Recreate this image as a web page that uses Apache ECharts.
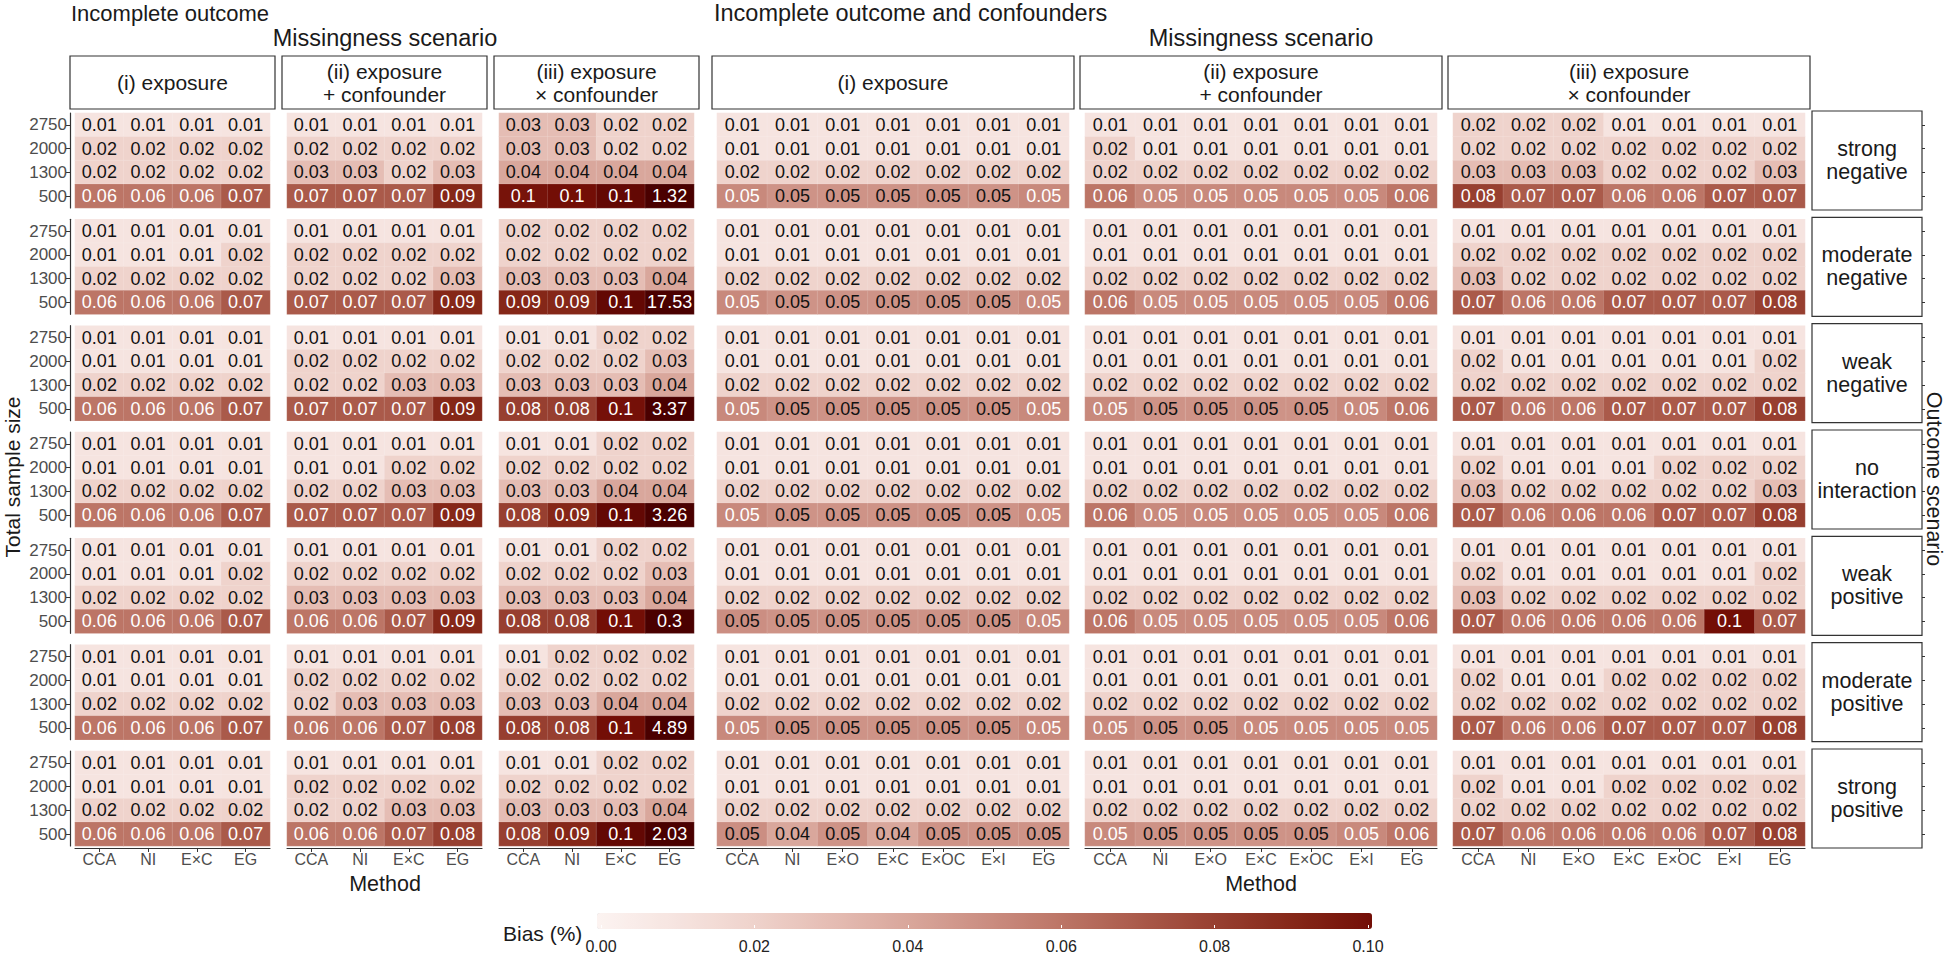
<!DOCTYPE html>
<html><head><meta charset="utf-8">
<script src="https://cdn.jsdelivr.net/npm/echarts@6/dist/echarts.min.js"></script>
<style>html,body{margin:0;padding:0;background:#fff}#c{width:1946px;height:954px}</style>
</head><body><div id="c"></div>
<script>
// ---------- categories / labels ----------
const sampleSizes = ['2750', '2000', '1300', '500'];
const methodsLeft = ['CCA', 'NI', 'E×C', 'EG'];
const methodsRight = ['CCA', 'NI', 'E×O', 'E×C', 'E×OC', 'E×I', 'EG'];
const outcomeScenarios = ['strong\nnegative', 'moderate\nnegative', 'weak\nnegative', 'no\ninteraction', 'weak\npositive', 'moderate\npositive', 'strong\npositive'];
const missingnessScenarios = ['(i) exposure', '(ii) exposure\n+ confounder', '(iii) exposure\n× confounder'];
const legendTicks = [0, 0.02, 0.04, 0.06, 0.08, 0.10];

// ---------- Incomplete outcome (rows: 2750, 2000, 1300, 500; cols: CCA, NI, E×C, EG) ----------
const outcomeOnly_i = [
  [[0.01,0.01,0.01,0.01],[0.02,0.02,0.02,0.02],[0.02,0.02,0.02,0.02],[0.06,0.06,0.06,0.07]],
  [[0.01,0.01,0.01,0.01],[0.01,0.01,0.01,0.02],[0.02,0.02,0.02,0.02],[0.06,0.06,0.06,0.07]],
  [[0.01,0.01,0.01,0.01],[0.01,0.01,0.01,0.01],[0.02,0.02,0.02,0.02],[0.06,0.06,0.06,0.07]],
  [[0.01,0.01,0.01,0.01],[0.01,0.01,0.01,0.01],[0.02,0.02,0.02,0.02],[0.06,0.06,0.06,0.07]],
  [[0.01,0.01,0.01,0.01],[0.01,0.01,0.01,0.02],[0.02,0.02,0.02,0.02],[0.06,0.06,0.06,0.07]],
  [[0.01,0.01,0.01,0.01],[0.01,0.01,0.01,0.01],[0.02,0.02,0.02,0.02],[0.06,0.06,0.06,0.07]],
  [[0.01,0.01,0.01,0.01],[0.01,0.01,0.01,0.01],[0.02,0.02,0.02,0.02],[0.06,0.06,0.06,0.07]]
];
const outcomeOnly_ii = [
  [[0.01,0.01,0.01,0.01],[0.02,0.02,0.02,0.02],[0.03,0.03,0.02,0.03],[0.07,0.07,0.07,0.09]],
  [[0.01,0.01,0.01,0.01],[0.02,0.02,0.02,0.02],[0.02,0.02,0.02,0.03],[0.07,0.07,0.07,0.09]],
  [[0.01,0.01,0.01,0.01],[0.02,0.02,0.02,0.02],[0.02,0.02,0.03,0.03],[0.07,0.07,0.07,0.09]],
  [[0.01,0.01,0.01,0.01],[0.01,0.01,0.02,0.02],[0.02,0.02,0.03,0.03],[0.07,0.07,0.07,0.09]],
  [[0.01,0.01,0.01,0.01],[0.02,0.02,0.02,0.02],[0.03,0.03,0.03,0.03],[0.06,0.06,0.07,0.09]],
  [[0.01,0.01,0.01,0.01],[0.02,0.02,0.02,0.02],[0.02,0.03,0.03,0.03],[0.06,0.06,0.07,0.08]],
  [[0.01,0.01,0.01,0.01],[0.02,0.02,0.02,0.02],[0.02,0.02,0.03,0.03],[0.06,0.06,0.07,0.08]]
];
const outcomeOnly_iii = [
  [[0.03,0.03,0.02,0.02],[0.03,0.03,0.02,0.02],[0.04,0.04,0.04,0.04],[0.098,0.1,0.104,1.32]],
  [[0.02,0.02,0.02,0.02],[0.02,0.02,0.02,0.02],[0.03,0.03,0.03,0.04],[0.09,0.09,0.104,17.53]],
  [[0.01,0.01,0.02,0.02],[0.02,0.02,0.02,0.03],[0.03,0.03,0.03,0.04],[0.08,0.08,0.099,3.37]],
  [[0.01,0.01,0.02,0.02],[0.02,0.02,0.02,0.02],[0.03,0.03,0.04,0.04],[0.08,0.09,0.104,3.26]],
  [[0.01,0.01,0.02,0.02],[0.02,0.02,0.02,0.03],[0.03,0.03,0.03,0.04],[0.08,0.08,0.1,0.3]],
  [[0.01,0.02,0.02,0.02],[0.02,0.02,0.02,0.02],[0.03,0.03,0.04,0.04],[0.08,0.08,0.1,4.89]],
  [[0.01,0.01,0.02,0.02],[0.02,0.02,0.02,0.02],[0.03,0.03,0.03,0.04],[0.08,0.09,0.104,2.03]]
];

// ---------- Incomplete outcome and confounders (cols: CCA, NI, E×O, E×C, E×OC, E×I, EG) ----------
const outcomeConf_i = [
  [[0.01,0.01,0.01,0.01,0.01,0.01,0.01],[0.01,0.01,0.01,0.01,0.01,0.01,0.01],[0.02,0.02,0.02,0.02,0.02,0.02,0.02],[0.052,0.048,0.048,0.048,0.048,0.048,0.052]],
  [[0.01,0.01,0.01,0.01,0.01,0.01,0.01],[0.01,0.01,0.01,0.01,0.01,0.01,0.01],[0.02,0.02,0.02,0.02,0.02,0.02,0.02],[0.052,0.048,0.048,0.048,0.048,0.048,0.052]],
  [[0.01,0.01,0.01,0.01,0.01,0.01,0.01],[0.01,0.01,0.01,0.01,0.01,0.01,0.01],[0.02,0.02,0.02,0.02,0.02,0.02,0.02],[0.052,0.048,0.048,0.048,0.048,0.048,0.052]],
  [[0.01,0.01,0.01,0.01,0.01,0.01,0.01],[0.01,0.01,0.01,0.01,0.01,0.01,0.01],[0.02,0.02,0.02,0.02,0.02,0.02,0.02],[0.052,0.048,0.048,0.048,0.048,0.048,0.052]],
  [[0.01,0.01,0.01,0.01,0.01,0.01,0.01],[0.01,0.01,0.01,0.01,0.01,0.01,0.01],[0.02,0.02,0.02,0.02,0.02,0.02,0.02],[0.05,0.048,0.048,0.048,0.048,0.048,0.052]],
  [[0.01,0.01,0.01,0.01,0.01,0.01,0.01],[0.01,0.01,0.01,0.01,0.01,0.01,0.01],[0.02,0.02,0.02,0.02,0.02,0.02,0.02],[0.052,0.048,0.048,0.048,0.048,0.048,0.052]],
  [[0.01,0.01,0.01,0.01,0.01,0.01,0.01],[0.01,0.01,0.01,0.01,0.01,0.01,0.01],[0.02,0.02,0.02,0.02,0.02,0.02,0.02],[0.05,0.04,0.048,0.04,0.048,0.048,0.048]]
];
const outcomeConf_ii = [
  [[0.01,0.01,0.01,0.01,0.01,0.01,0.01],[0.02,0.01,0.01,0.01,0.01,0.01,0.01],[0.02,0.02,0.02,0.02,0.02,0.02,0.02],[0.06,0.052,0.052,0.052,0.052,0.052,0.06]],
  [[0.01,0.01,0.01,0.01,0.01,0.01,0.01],[0.01,0.01,0.01,0.01,0.01,0.01,0.01],[0.02,0.02,0.02,0.02,0.02,0.02,0.02],[0.06,0.052,0.052,0.052,0.052,0.052,0.06]],
  [[0.01,0.01,0.01,0.01,0.01,0.01,0.01],[0.01,0.01,0.01,0.01,0.01,0.01,0.01],[0.02,0.02,0.02,0.02,0.02,0.02,0.02],[0.052,0.048,0.048,0.048,0.048,0.052,0.06]],
  [[0.01,0.01,0.01,0.01,0.01,0.01,0.01],[0.01,0.01,0.01,0.01,0.01,0.01,0.01],[0.02,0.02,0.02,0.02,0.02,0.02,0.02],[0.06,0.052,0.052,0.052,0.052,0.052,0.06]],
  [[0.01,0.01,0.01,0.01,0.01,0.01,0.01],[0.01,0.01,0.01,0.01,0.01,0.01,0.01],[0.02,0.02,0.02,0.02,0.02,0.02,0.02],[0.06,0.052,0.052,0.052,0.052,0.052,0.06]],
  [[0.01,0.01,0.01,0.01,0.01,0.01,0.01],[0.01,0.01,0.01,0.01,0.01,0.01,0.01],[0.02,0.02,0.02,0.02,0.02,0.02,0.02],[0.052,0.048,0.048,0.052,0.052,0.052,0.052]],
  [[0.01,0.01,0.01,0.01,0.01,0.01,0.01],[0.01,0.01,0.01,0.01,0.01,0.01,0.01],[0.02,0.02,0.02,0.02,0.02,0.02,0.02],[0.052,0.048,0.048,0.048,0.048,0.052,0.06]]
];
const outcomeConf_iii = [
  [[0.02,0.02,0.02,0.01,0.01,0.01,0.01],[0.02,0.02,0.02,0.02,0.02,0.02,0.02],[0.03,0.03,0.03,0.02,0.02,0.02,0.03],[0.08,0.07,0.07,0.06,0.06,0.07,0.07]],
  [[0.01,0.01,0.01,0.01,0.01,0.01,0.01],[0.02,0.02,0.02,0.02,0.02,0.02,0.02],[0.03,0.02,0.02,0.02,0.02,0.02,0.02],[0.07,0.06,0.06,0.07,0.07,0.07,0.08]],
  [[0.01,0.01,0.01,0.01,0.01,0.01,0.01],[0.02,0.01,0.01,0.01,0.01,0.01,0.02],[0.02,0.02,0.02,0.02,0.02,0.02,0.02],[0.07,0.06,0.06,0.07,0.07,0.07,0.08]],
  [[0.01,0.01,0.01,0.01,0.01,0.01,0.01],[0.02,0.01,0.01,0.01,0.02,0.02,0.02],[0.03,0.02,0.02,0.02,0.02,0.02,0.03],[0.07,0.06,0.06,0.06,0.07,0.07,0.08]],
  [[0.01,0.01,0.01,0.01,0.01,0.01,0.01],[0.02,0.01,0.01,0.01,0.01,0.01,0.02],[0.03,0.02,0.02,0.02,0.02,0.02,0.02],[0.07,0.06,0.06,0.06,0.06,0.1,0.07]],
  [[0.01,0.01,0.01,0.01,0.01,0.01,0.01],[0.02,0.01,0.01,0.02,0.02,0.02,0.02],[0.02,0.02,0.02,0.02,0.02,0.02,0.02],[0.07,0.06,0.06,0.07,0.07,0.07,0.08]],
  [[0.01,0.01,0.01,0.01,0.01,0.01,0.01],[0.02,0.01,0.01,0.02,0.02,0.02,0.02],[0.02,0.02,0.02,0.02,0.02,0.02,0.02],[0.07,0.06,0.06,0.06,0.06,0.07,0.08]]
];

// ---------- styling / layout ----------
const FONT = "'Liberation Sans', Arial, Helvetica, sans-serif";
const rampColors = ['#fcf3f1','#f6e4e0','#efd3cc','#e5bdb4','#d9a79c','#cb8e82','#bc7566','#aa5a4a','#973f30','#852718','#730e06'];
const overColor = '#4a0000';
const PAD = 5, ROW_TOP = 113, ROW_STEP = 106.33, ROW_H = 95;
const figs = [
  {panels: [outcomeOnly_i, outcomeOnly_ii, outcomeOnly_iii], methods: methodsLeft, boxLeft: [70, 282, 494], boxW: 205, labelSize: 18},
  {panels: [outcomeConf_i, outcomeConf_ii, outcomeConf_iii], methods: methodsRight, boxLeft: [712, 1080, 1448], boxW: 362, labelSize: 18}
];
const fmt = v => String(Math.round(v * 100) / 100);

const grids = [], xAxes = [], yAxes = [], series = [], heatIdx = [];
figs.forEach((fig, f) => {
  fig.panels.forEach((panel, p) => {
    panel.forEach((scen, r) => {
      const g = grids.length;
      grids.push({left: fig.boxLeft[p] + PAD, top: ROW_TOP + r * ROW_STEP, width: fig.boxW - 2 * PAD, height: ROW_H});
      const bottom = r === 6;
      xAxes.push({type: 'category', gridIndex: g, data: fig.methods, position: 'bottom', offset: 2,
        axisLine: {show: bottom, lineStyle: {color: '#333', width: 1.2}},
        axisTick: {show: bottom, alignWithLabel: true, length: 4, lineStyle: {color: '#333'}},
        axisLabel: {show: bottom, color: '#4d4d4d', fontSize: 16, fontFamily: FONT, margin: 4, interval: 0},
        splitLine: {show: false}});
      const leftAxis = f === 0 && p === 0;
      const rightAxis = f === 1 && p === 2;
      yAxes.push({type: 'category', gridIndex: g, data: sampleSizes, inverse: true,
        position: rightAxis ? 'right' : 'left', offset: rightAxis ? 116 : 5,
        axisLine: {show: leftAxis, lineStyle: {color: '#333', width: 1.2}},
        axisTick: {show: leftAxis || rightAxis, alignWithLabel: true, length: 4, lineStyle: {color: '#333'}},
        axisLabel: {show: leftAxis, color: '#4d4d4d', fontSize: 17, fontFamily: FONT, margin: 3, interval: 0},
        splitLine: {show: false}});
      const data = [];
      scen.forEach((row, yi) => row.forEach((v, xi) => {
        data.push({value: [xi, yi, v], label: {color: v > 0.05 ? '#ffffff' : '#111111'}});
      }));
      heatIdx.push(series.length);
      series.push({type: 'heatmap', xAxisIndex: g, yAxisIndex: g, data,
        label: {show: true, fontSize: fig.labelSize, fontFamily: FONT, formatter: pr => fmt(pr.value[2])},
        itemStyle: {borderColor: 'rgba(255,255,255,0.25)', borderWidth: 0.5},
        emphasis: {disabled: true}});
    });
  });
});

// legend axis (tick labels for the colour bar)
const lg = grids.length;
grids.push({left: 601, top: 913, width: 767, height: 16});
xAxes.push({type: 'value', gridIndex: lg, min: legendTicks[0], max: legendTicks[legendTicks.length - 1], interval: 0.02, position: 'bottom', z: 10,
  axisLine: {show: false},
  axisTick: {show: true, inside: true, length: 3, lineStyle: {color: '#ffffff', width: 1}},
  axisLabel: {formatter: v => v.toFixed(2), fontSize: 16, color: '#222', margin: 10, fontFamily: FONT},
  splitLine: {show: false}});
yAxes.push({type: 'value', gridIndex: lg, show: false});
const dummyIdx = series.length;
series.push({type: 'scatter', xAxisIndex: lg, yAxisIndex: lg, data: [], silent: true});

// ---------- graphics (strips, titles) ----------
function boxEl(x, y, w, h, text, size, lh) {
  return [
    {type: 'rect', shape: {x, y, width: w, height: h}, style: {fill: '#fff', stroke: '#333', lineWidth: 1.2}, z: 5},
    {type: 'text', x: x + w / 2, y: y + h / 2, z: 6, style: {text, fill: '#1a1a1a', fontSize: size, fontFamily: FONT,
      align: 'center', verticalAlign: 'middle', textAlign: 'center', textVerticalAlign: 'middle', lineHeight: lh}}
  ];
}
function textEl(x, y, text, size, align, rot) {
  return {type: 'text', x, y, rotation: rot || 0, z: 6, style: {text, fill: '#1a1a1a', fontSize: size, fontFamily: FONT,
    align, verticalAlign: 'middle', textAlign: align, textVerticalAlign: 'middle'}};
}
const graphics = [];
figs.forEach(fig => {
  missingnessScenarios.forEach((t, p) => graphics.push(...boxEl(fig.boxLeft[p], 56, fig.boxW, 53, t, 21, 23)));
});
outcomeScenarios.forEach((t, r) => graphics.push(...boxEl(1812, ROW_TOP + r * ROW_STEP - 2, 110, ROW_H + 4, t, 21.5, 23)));
graphics.push(textEl(71, 13, 'Incomplete outcome', 22, 'left'));
graphics.push(textEl(385, 38, 'Missingness scenario', 23.5, 'center'));
graphics.push(textEl(714, 13, 'Incomplete outcome and confounders', 23.5, 'left'));
graphics.push(textEl(1261, 38, 'Missingness scenario', 23.5, 'center'));
graphics.push(textEl(12, 477, 'Total sample size', 21, 'center', Math.PI / 2));
graphics.push(textEl(1934, 479, 'Outcome scenario', 21.5, 'center', -Math.PI / 2));
graphics.push(textEl(385, 884, 'Method', 21.5, 'center'));
graphics.push(textEl(1261, 884, 'Method', 21.5, 'center'));
graphics.push(textEl(503, 933, 'Bias (%)', 21, 'left'));

const chart = echarts.init(document.getElementById('c'), null, {renderer: 'svg', width: 1946, height: 954});
chart.setOption({
  animation: false,
  backgroundColor: '#ffffff',
  textStyle: {fontFamily: FONT},
  grid: grids,
  xAxis: xAxes,
  yAxis: yAxes,
  visualMap: [
    {type: 'continuous', show: false, dimension: 2, min: 0, max: 0.11, seriesIndex: heatIdx,
      inRange: {color: rampColors.concat([overColor])}},
    {type: 'continuous', show: true, orient: 'horizontal', dimension: 0, min: legendTicks[0], max: legendTicks[legendTicks.length - 1],
      seriesIndex: [dummyIdx], calculable: false, hoverLink: false,
      inRange: {color: rampColors}, itemWidth: 16, itemHeight: 775, left: 597, top: 913, padding: 0, text: null}
  ],
  graphic: graphics,
  series
});
</script>
</body></html>
